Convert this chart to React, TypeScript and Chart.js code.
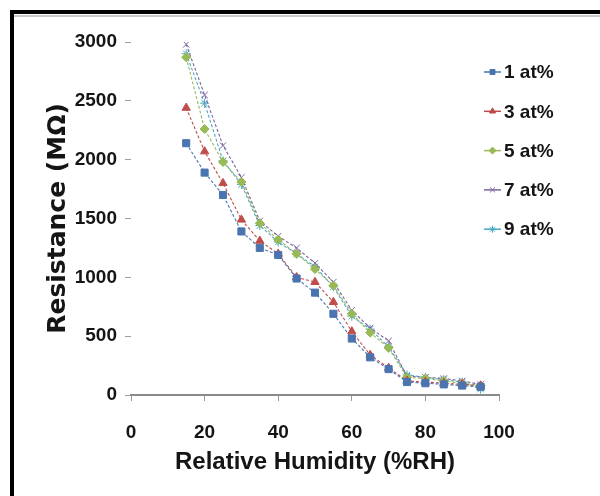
import React, { useEffect, useRef } from 'react';
import { Chart, registerables } from 'chart.js';
import { drawPoint } from 'chart.js/helpers';

Chart.register(...registerables);

// Relative humidity (%RH)
const humidity = [15, 20, 25, 30, 35, 40, 45, 50, 55, 60, 65, 70, 75, 80, 85, 90, 95];

const seriesLabels = ['1 at%', '3 at%', '5 at%', '7 at%', '9 at%'];

// Resistance (MΩ)
const res1 = [2140, 1890, 1700, 1390, 1250, 1190, 990, 870, 690, 480, 320, 220, 110, 100, 90, 80, 70];
const res3 = [2440, 2070, 1800, 1490, 1310, 1200, 1000, 960, 790, 540, 340, 230, 120, 110, 100, 90, 80];
const res5 = [2870, 2260, 1980, 1810, 1460, 1320, 1200, 1070, 930, 690, 530, 400, 150, 140, 120, 100, 80];
const res7 = [2980, 2550, 2120, 1850, 1480, 1350, 1250, 1120, 960, 720, 570, 460, 160, 150, 140, 120, 90];
const res9 = [2900, 2480, 1990, 1790, 1440, 1300, 1200, 1090, 920, 670, 560, 410, 170, 150, 130, 110, 50];

const xMin = 0;
const xMax = 100;
const xStep = 20;
const yMin = 0;
const yMax = 3000;
const yStep = 500;

const colors = ['#4a74b0', '#bf4d4a', '#98b954', '#7d62a0', '#48a8c2'];
const markers = ['rect', 'triangle', 'rectRot', 'crossRot', 'star'];
const markerRadius = [5, 4.8, 4.5, 4.5, 4.5];

const FONT = '"Liberation Sans", Arial, sans-serif';

const legendPlugin = {
  id: 'sideLegend',
  afterDraw(chart: any) {
    const ctx = chart.ctx;
    ctx.save();
    chart.data.datasets.forEach((ds: any, i: number) => {
      const y = 72 + i * 39.3;
      ctx.setLineDash([]);
      ctx.strokeStyle = ds.borderColor;
      ctx.lineWidth = 1.5;
      ctx.beginPath();
      ctx.moveTo(484, y);
      ctx.lineTo(501, y);
      ctx.stroke();
      ctx.fillStyle = ds.pointBackgroundColor;
      ctx.strokeStyle = ds.pointBorderColor;
      ctx.lineWidth = 1;
      drawPoint(ctx, { pointStyle: ds.pointStyle, radius: 3.5, rotation: 0, borderWidth: 1 } as any, 492.5, y);
      ctx.fillStyle = '#151515';
      ctx.font = `bold 19px ${FONT}`;
      ctx.textBaseline = 'middle';
      ctx.textAlign = 'left';
      ctx.fillText(ds.label, 504, y + 1);
    });
    ctx.restore();
  },
};

export default function App() {
  const ref = useRef<HTMLCanvasElement | null>(null);

  useEffect(() => {
    if (!ref.current) return;
    const allSeries = [res1, res3, res5, res7, res9];
    const datasets = allSeries.map((s, i) => ({
      label: seriesLabels[i],
      data: humidity.map((h, j) => ({ x: h, y: s[j] })),
      borderColor: colors[i],
      backgroundColor: colors[i],
      pointBackgroundColor: colors[i],
      pointBorderColor: colors[i],
      pointStyle: markers[i],
      pointRadius: markerRadius[i],
      pointBorderWidth: 1,
      borderWidth: 1.1,
      borderDash: [3, 2],
      showLine: true,
      tension: 0,
    }));

    const chart = new Chart(ref.current, {
      type: 'scatter',
      data: { datasets } as any,
      options: {
        responsive: false,
        animation: false,
        layout: { padding: { left: 43, top: 42, right: 101, bottom: 19 } },
        plugins: {
          legend: { display: false },
          tooltip: { enabled: false },
        },
        scales: {
          x: {
            type: 'linear',
            min: xMin,
            max: xMax,
            ticks: {
              stepSize: xStep,
              color: '#151515',
              font: { family: FONT, size: 19, weight: 'bold' },
              padding: 20,
              callback: (v: any) => String(v),
            },
            grid: {
              display: true,
              drawOnChartArea: false,
              drawTicks: true,
              tickLength: 6,
              color: '#9a9a9a',
            },
            border: { display: true, color: '#8a8a8a', width: 2 },
            title: {
              display: true,
              text: 'Relative Humidity (%RH)',
              color: '#151515',
              font: { family: FONT, size: 24, weight: 'bold' },
              padding: { top: 0, bottom: 0 },
            },
            afterFit: (scale: any) => {
              scale.height = 82;
            },
          },
          y: {
            type: 'linear',
            min: yMin,
            max: yMax,
            ticks: {
              stepSize: yStep,
              color: '#151515',
              font: { family: FONT, size: 19, weight: 'bold' },
              padding: 8,
              callback: (v: any) => String(v),
            },
            grid: {
              display: true,
              drawOnChartArea: false,
              drawTicks: true,
              tickLength: 6,
              color: '#a0a0a0',
            },
            border: { display: false },
            title: {
              display: true,
              text: 'Resistance (MΩ)',
              color: '#151515',
              font: { family: '"DejaVu Sans", sans-serif', size: 25, weight: 'bold' },
              padding: { top: 0, bottom: 0 },
            },
            afterFit: (scale: any) => {
              scale.width = 88;
            },
          },
        },
      } as any,
      plugins: [legendPlugin],
    });
    return () => chart.destroy();
  }, []);

  return (
    <div style={{ position: 'absolute', left: 0, top: 0, width: 600, height: 496, background: '#fff', overflow: 'hidden' }}>
      <canvas ref={ref} width={600} height={496} style={{ position: 'absolute', left: 0, top: 0 }} />
      <div style={{ position: 'absolute', left: 10, top: 10, width: 590, height: 4, background: '#000' }} />
      <div style={{ position: 'absolute', left: 14, top: 15, width: 586, height: 2, background: '#c8c8c8' }} />
      <div style={{ position: 'absolute', left: 10, top: 10, width: 4, height: 486, background: '#000' }} />
    </div>
  );
}
